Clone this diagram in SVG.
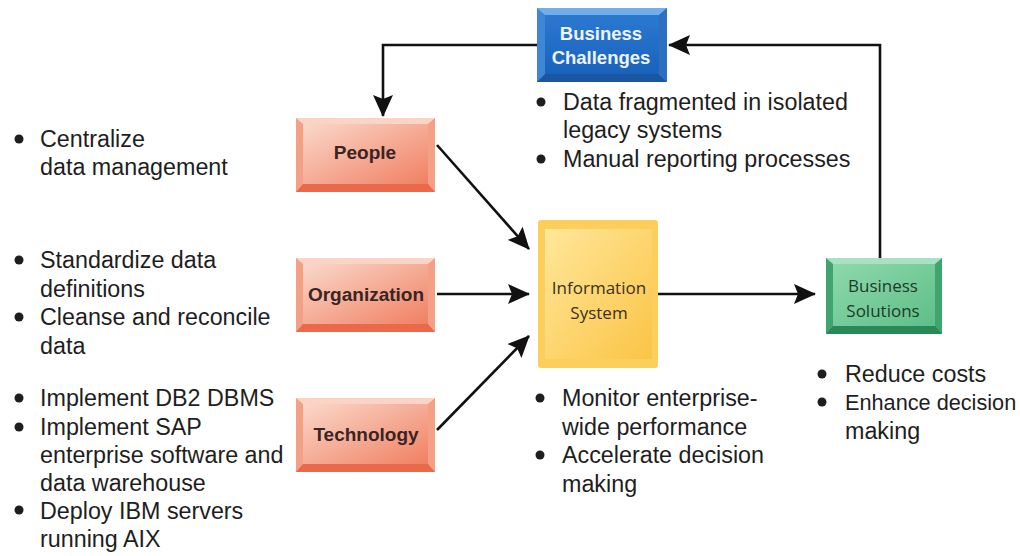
<svg xmlns="http://www.w3.org/2000/svg" width="1020" height="556" viewBox="0 0 1020 556">
<defs>
<style>
.t{font-family:"Liberation Sans",Arial,sans-serif;font-size:23.3px;fill:#1e1e1e}
.bl{font-family:"Liberation Sans",Arial,sans-serif;font-weight:bold;font-size:19px;fill:#3a2424;text-anchor:middle}
.bc{font-family:"Liberation Sans",Arial,sans-serif;font-weight:bold;font-size:18.5px;fill:#eef4ff;text-anchor:middle}
.os{font-family:"Open Sans","Noto Sans",sans-serif;font-size:17px;text-anchor:middle}
.con{fill:none;stroke:#111;stroke-width:2.6}
</style>
<linearGradient id="gs" x1="0" y1="0" x2="1" y2="1"><stop offset="0" stop-color="#fad8ca"/><stop offset="1" stop-color="#f08062"/></linearGradient>
<linearGradient id="gy" x1="0" y1="0" x2="1" y2="1"><stop offset="0" stop-color="#ffe79a"/><stop offset="1" stop-color="#fbc446"/></linearGradient>
<linearGradient id="gg" x1="0" y1="0" x2="1" y2="1"><stop offset="0" stop-color="#8ed8ac"/><stop offset="1" stop-color="#5ebf87"/></linearGradient>
<linearGradient id="gb" x1="0" y1="0" x2="0" y2="1"><stop offset="0" stop-color="#2a79d0"/><stop offset="1" stop-color="#1a62bc"/></linearGradient>
<marker id="ah" viewBox="0 0 22 20" refX="21" refY="10" markerWidth="22" markerHeight="20" markerUnits="userSpaceOnUse" orient="auto">
<path d="M0,0 L22,10 L0,20 L4,10 Z" fill="#111"/>
</marker>
</defs>
<rect width="1020" height="556" fill="#fff"/>

<g id="connectors">
<path class="con" d="M537,45 H383 V116" marker-end="url(#ah)"/>
<path class="con" d="M880,258 V45 H669" marker-end="url(#ah)"/>
<path class="con" d="M437,145 L529,249" marker-end="url(#ah)"/>
<path class="con" d="M437,294 H529" marker-end="url(#ah)"/>
<path class="con" d="M437,430 L529,336" marker-end="url(#ah)"/>
<path class="con" d="M658,294 H815" marker-end="url(#ah)"/>
</g>

<g id="business-challenges">
<rect x="537" y="8" width="130" height="74" fill="#3f86d6"/>
<polygon points="537,8 667,8 659,15 545,15" fill="#74aeea"/>
<polygon points="537,82 667,82 659,74 545,74" fill="#1b56a2"/>
<polygon points="667,8 667,82 659,74 659,15" fill="#2d70c2"/>
<rect x="545" y="15" width="114" height="59" fill="url(#gb)"/>
<text class="bc" x="601" y="40">Business</text>
<text class="bc" x="601" y="64">Challenges</text>
</g>

<g id="people">
<rect x="296" y="118" width="139" height="74" fill="#f4a086"/>
<polygon points="296,118 435,118 428,124 303,124" fill="#fbd4c6"/>
<polygon points="296,192 435,192 428,184 303,184" fill="#e9694a"/>
<rect x="303" y="124" width="125" height="60" fill="url(#gs)"/>
<text class="bl" x="365" y="159">People</text>
</g>

<g id="organization">
<rect x="296" y="258" width="139" height="74" fill="#f4a086"/>
<polygon points="296,258 435,258 428,264 303,264" fill="#fbd4c6"/>
<polygon points="296,332 435,332 428,324 303,324" fill="#e9694a"/>
<rect x="303" y="264" width="125" height="60" fill="url(#gs)"/>
<text class="bl" x="366" y="301">Organization</text>
</g>

<g id="technology">
<rect x="296" y="398" width="139" height="74" fill="#f4a086"/>
<polygon points="296,398 435,398 428,404 303,404" fill="#fbd4c6"/>
<polygon points="296,472 435,472 428,464 303,464" fill="#e9694a"/>
<rect x="303" y="404" width="125" height="60" fill="url(#gs)"/>
<text class="bl" x="366" y="441">Technology</text>
</g>

<g id="information-system">
<rect x="538" y="220" width="120" height="148" rx="3" fill="#fcce5c"/>
<rect x="545" y="229" width="107" height="130" fill="url(#gy)"/>
<text class="os" x="599" y="294" fill="#3a3020">Information</text>
<text class="os" x="599" y="319" fill="#3a3020">System</text>
</g>

<g id="business-solutions">
<rect x="826" y="258" width="116" height="76" fill="#3fa56c"/>
<polygon points="826,258 942,258 935,264 833,264" fill="#a8e2c0"/>
<polygon points="826,334 942,334 935,326 833,326" fill="#2a8a55"/>
<rect x="833" y="264" width="102" height="62" fill="url(#gg)"/>
<text class="os" x="883" y="292" fill="#1f3a2a">Business</text>
<text class="os" x="883" y="317" fill="#1f3a2a">Solutions</text>
</g>

<g id="text-people" fill="#1e1e1e">
<circle cx="19" cy="139" r="4.5"/>
<text class="t" x="40" y="147">Centralize</text>
<text class="t" x="40" y="175">data management</text>
</g>
<g id="text-organization" fill="#1e1e1e">
<circle cx="19" cy="260" r="4.5"/>
<text class="t" x="40" y="268">Standardize data</text>
<text class="t" x="40" y="297">definitions</text>
<circle cx="19" cy="317" r="4.5"/>
<text class="t" x="40" y="325">Cleanse and reconcile</text>
<text class="t" x="40" y="354">data</text>
</g>
<g id="text-technology" fill="#1e1e1e">
<circle cx="19" cy="398" r="4.5"/>
<text class="t" x="40" y="406">Implement DB2 DBMS</text>
<circle cx="19" cy="427" r="4.5"/>
<text class="t" x="40" y="435">Implement SAP</text>
<text class="t" x="40" y="463">enterprise software and</text>
<text class="t" x="40" y="491">data warehouse</text>
<circle cx="19" cy="510" r="4.5"/>
<text class="t" x="40" y="519">Deploy IBM servers</text>
<text class="t" x="40" y="547">running AIX</text>
</g>
<g id="text-challenges" fill="#1e1e1e">
<circle cx="541" cy="102" r="4.5"/>
<text class="t" x="563" y="110">Data fragmented in isolated</text>
<text class="t" x="563" y="138">legacy systems</text>
<circle cx="541" cy="159" r="4.5"/>
<text class="t" x="563" y="167">Manual reporting processes</text>
</g>
<g id="text-is" fill="#1e1e1e">
<circle cx="540" cy="398" r="4.5"/>
<text class="t" x="562" y="406">Monitor enterprise-</text>
<text class="t" x="562" y="435">wide performance</text>
<circle cx="540" cy="455" r="4.5"/>
<text class="t" x="562" y="463">Accelerate decision</text>
<text class="t" x="562" y="492">making</text>
</g>
<g id="text-solutions" fill="#1e1e1e">
<circle cx="822" cy="374" r="4.5"/>
<text class="t" x="845" y="382">Reduce costs</text>
<circle cx="822" cy="402" r="4.5"/>
<text class="t" x="845" y="410" style="font-size:21.7px">Enhance decision</text>
<text class="t" x="845" y="439">making</text>
</g>
</svg>
